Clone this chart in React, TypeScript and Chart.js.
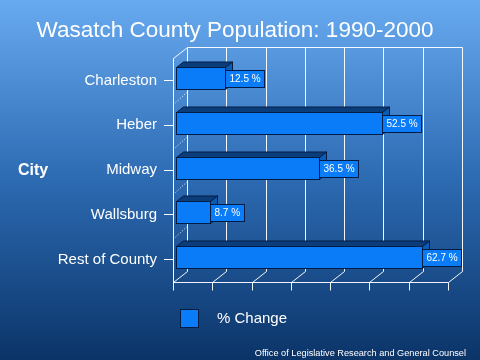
import React, { useEffect, useRef } from "react";
import { Chart, registerables } from "chart.js";

Chart.register(...registerables);

// ---------- data ----------
const categories = ["Charleston", "Heber", "Midway", "Wallsburg", "Rest of County"];
const percentChange = [12.5, 52.5, 36.5, 8.7, 62.7];
const seriesName = "% Change";
const xTicks = [0, 10, 20, 30, 40, 50, 60, 70];
const titleText = "Wasatch County Population: 1990-2000";
const axisTitle = "City";
const footerText = "Office of Legislative Research and General Counsel";

// ---------- style ----------
const FONT = "'Liberation Sans', Arial, sans-serif";
const DEPTH_X = 14;
const DEPTH_Y = 11;
const BAR_FRONT = 0.22;
const BAR_BACK = 0.72;
const BAR_FACE = "#0a7cf8";
const BAR_TOP = "#0a3d7a";
const BAR_SIDE = "#0b5cb4";
const BAR_EDGE = "#041c44";
const LINE = "rgba(255,255,255,0.95)";

const threeD = {
  id: "threeD",
  beforeDraw(chart: any) {
    const { ctx, width, height } = chart;
    const g = ctx.createLinearGradient(0, 0, 0, height);
    g.addColorStop(0, "#68aaf0");
    g.addColorStop(0.5, "#2c6ab2");
    g.addColorStop(1, "#0b3468");
    ctx.save();
    ctx.fillStyle = g;
    ctx.fillRect(0, 0, width, height);
    ctx.restore();
  },
  beforeDatasetsDraw(chart: any) {
    const ctx = chart.ctx;
    const xs = chart.scales.x;
    const ys = chart.scales.y;
    const a = chart.chartArea;
    const backTop = a.top - DEPTH_Y;
    const backBot = a.bottom - DEPTH_Y;
    const line = (x1: number, y1: number, x2: number, y2: number) => {
      ctx.beginPath();
      ctx.moveTo(x1, y1);
      ctx.lineTo(x2, y2);
      ctx.stroke();
    };
    ctx.save();
    ctx.strokeStyle = LINE;
    ctx.lineWidth = 1;
    const left = Math.round(a.left) + 0.5;
    const right = Math.round(xs.getPixelForValue(xTicks[xTicks.length - 1])) + 0.5;
    const bottom = Math.round(a.bottom) + 0.5;
    const top = Math.round(a.top) + 0.5;
    const bt = Math.round(backTop) + 0.5;
    const bb = Math.round(backBot) + 0.5;
    xTicks.forEach((v) => {
      const px = Math.round(xs.getPixelForValue(v)) + 0.5;
      line(px + DEPTH_X, bt, px + DEPTH_X, bb);
      line(px, bottom, px + DEPTH_X, bb);
      line(px, bottom, px, bottom + 8);
    });
    line(left + DEPTH_X, bt, right + DEPTH_X, bt);
    line(left, bottom, right, bottom);
    line(left, top, left + DEPTH_X, bt);
    // dotted category separators on the left wall
    ctx.setLineDash([1, 2]);
    for (let i = 0; i < categories.length - 1; i++) {
      const y = (ys.getPixelForTick(i) + ys.getPixelForTick(i + 1)) / 2;
      line(left + 2, y, left + DEPTH_X, y - DEPTH_Y);
    }
    ctx.setLineDash([]);

    // bars
    const meta = chart.getDatasetMeta(0);
    const fx = DEPTH_X * BAR_FRONT;
    const fy = -DEPTH_Y * BAR_FRONT;
    const dx = DEPTH_X * (BAR_BACK - BAR_FRONT);
    const dy = -DEPTH_Y * (BAR_BACK - BAR_FRONT);
    ctx.strokeStyle = BAR_EDGE;
    ctx.lineJoin = "miter";
    meta.data.forEach((bar: any, i: number) => {
      const p = bar.getProps(["x", "y", "base", "height"], true);
      const L = Math.round(p.base + fx) + 0.5;
      const R = Math.round(p.x + fx) + 0.5;
      const T = Math.round(p.y - p.height / 2 + fy) + 0.5;
      const B = Math.round(p.y + p.height / 2 + fy) + 0.5;
      // top face
      ctx.beginPath();
      ctx.moveTo(L, T);
      ctx.lineTo(L + dx, T + dy);
      ctx.lineTo(R + dx, T + dy);
      ctx.lineTo(R, T);
      ctx.closePath();
      ctx.fillStyle = BAR_TOP;
      ctx.fill();
      ctx.stroke();
      // side face
      ctx.beginPath();
      ctx.moveTo(R, T);
      ctx.lineTo(R + dx, T + dy);
      ctx.lineTo(R + dx, B + dy);
      ctx.lineTo(R, B);
      ctx.closePath();
      ctx.fillStyle = BAR_SIDE;
      ctx.fill();
      ctx.stroke();
      // front face
      ctx.fillStyle = BAR_FACE;
      ctx.fillRect(L, T, R - L, B - T);
      ctx.strokeRect(L, T, R - L, B - T);
      // value label box
      const txt = percentChange[i].toFixed(1) + " %";
      ctx.font = `10px ${FONT}`;
      const tw = ctx.measureText(txt).width;
      const bw = Math.round(tw + 8);
      const bh = 17;
      const cy = (T + B) / 2;
      const by = Math.round(cy - bh / 2) + 0.5;
      ctx.fillStyle = BAR_FACE;
      ctx.fillRect(R, by, bw, bh);
      ctx.strokeRect(R, by, bw, bh);
      ctx.fillStyle = "#ffffff";
      ctx.textAlign = "left";
      ctx.textBaseline = "middle";
      ctx.fillText(txt, R + 4, by + bh / 2 + 0.5);
    });
    ctx.restore();
    return false;
  },
  afterDraw(chart: any) {
    const ctx = chart.ctx;
    ctx.save();
    // axis title "City"
    ctx.fillStyle = "#ffffff";
    ctx.font = `bold 16px ${FONT}`;
    ctx.textAlign = "left";
    ctx.textBaseline = "middle";
    ctx.fillText(axisTitle, 18, 171);
    // legend
    ctx.fillStyle = BAR_FACE;
    ctx.fillRect(180.5, 309.5, 18, 18);
    ctx.strokeStyle = BAR_EDGE;
    ctx.lineWidth = 1;
    ctx.strokeRect(180.5, 309.5, 18, 18);
    ctx.fillStyle = "#ffffff";
    ctx.font = `15px ${FONT}`;
    ctx.fillText(seriesName, 217, 319);
    // footer
    ctx.font = `9.2px ${FONT}`;
    ctx.textAlign = "right";
    ctx.textBaseline = "alphabetic";
    ctx.fillText(footerText, 466, 356);
    ctx.restore();
  },
};

export default function App() {
  const ref = useRef<HTMLCanvasElement>(null);
  useEffect(() => {
    document.body.style.margin = "0";
    const chart = new Chart(ref.current as HTMLCanvasElement, {
      type: "bar",
      data: {
        labels: categories,
        datasets: [
          {
            label: seriesName,
            data: percentChange,
            backgroundColor: BAR_FACE,
            borderColor: BAR_EDGE,
            barPercentage: 0.49,
            categoryPercentage: 1,
          },
        ],
      },
      options: {
        indexAxis: "y",
        responsive: false,
        animation: false,
        layout: { padding: { left: 0, right: 10, top: 0, bottom: 78 } },
        plugins: {
          legend: { display: false },
          tooltip: { enabled: false },
          title: {
            display: true,
            text: titleText,
            color: "#ffffff",
            font: { family: FONT, size: 22.5, weight: "normal" },
            padding: { top: 17, bottom: 14 },
          },
        },
        scales: {
          x: {
            display: false,
            min: 0,
            max: 70,
          },
          y: {
            grid: {
              display: true,
              drawOnChartArea: false,
              drawTicks: true,
              tickLength: 9,
              color: "#ffffff",
              offset: false,
            },
            border: { display: true, color: "#ffffff" },
            ticks: {
              color: "#ffffff",
              padding: 7,
              font: { family: FONT, size: 15 },
            },
            afterFit(scale: any) {
              scale.width = 173;
            },
          },
          yRight: {
            type: "category",
            position: "right",
            labels: categories,
            grid: { display: false },
            border: { display: false },
            ticks: { display: false },
            afterFit(scale: any) {
              scale.width = 22;
            },
          },
        },
      },
      plugins: [threeD],
    } as any);
    return () => chart.destroy();
  }, []);
  return (
    <div style={{ width: 480, height: 360 }}>
      <canvas ref={ref} width={480} height={360} style={{ display: "block" }} />
    </div>
  );
}
